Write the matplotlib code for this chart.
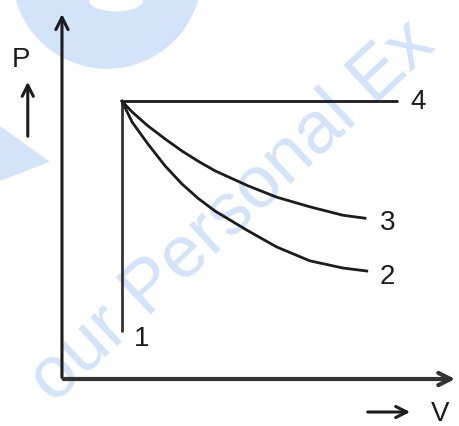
import matplotlib
matplotlib.use("Agg")
from matplotlib import pyplot as plt
from matplotlib.patches import Circle, Ellipse, Polygon

# start state (common to all four processes)
v0, p0 = 1.0, 4.63

# process 4 : isobaric, process 1 : isochoric
v4_end = 5.6
p1_end = 0.78

# process 3 (upper curve)
v3 = [1.0, 1.17, 1.43, 1.72, 2.0, 2.27, 2.55, 3.1, 3.58, 4.13, 4.68, 5.05]
p3 = [4.63, 4.45, 4.22, 4.0, 3.8, 3.63, 3.47, 3.22, 3.03, 2.87, 2.73, 2.68]

# process 2 (lower curve)
v2 = [1.0, 1.17, 1.43, 1.72, 2.0, 2.27, 2.55, 3.1, 3.58, 4.13, 4.68, 5.08]
p2 = [4.63, 4.28, 3.92, 3.55, 3.25, 3.01, 2.8, 2.47, 2.2, 1.97, 1.85, 1.80]

labels = ["1", "2", "3", "4"]

fig = plt.figure(figsize=(4.59, 4.27), dpi=100)
ax = fig.add_axes([0, 0, 1, 1])
ax.set_xlim(-1.033, 6.617)
ax.set_ylim(-0.783, 6.333)
ax.axis("off")

# pale watermark
wm = "#d3e3f9"
ax.add_patch(Circle((0.75, 6.75), 1.58, color=wm, lw=0, zorder=0))
ax.add_patch(Ellipse((0.9, 6.3), 0.9, 0.35, color="white", lw=0, zorder=0))
ax.add_patch(Polygon([(-1.04, 4.22), (-0.2, 3.62), (-1.04, 3.3)], color=wm, lw=0, zorder=0))
ax.text(2.83, 2.8, "our Personal Ex", rotation=43, fontsize=53, color=wm,
        family="Liberation Sans", ha="center", va="center", zorder=0)

# axes with open arrow heads
ink = "#1c1c1c"
ax.annotate("", xy=(0, 6.13), xytext=(0, -0.02),
            arrowprops=dict(arrowstyle="->", lw=2.2, color=ink, mutation_scale=22))
ax.annotate("", xy=(6.6, 0), xytext=(-0.02, 0),
            arrowprops=dict(arrowstyle="->", lw=3.0, color="#333333", mutation_scale=22))

# processes
ax.plot([v0, v4_end], [p0, p0], color=ink, lw=2.0, solid_capstyle="butt")
ax.plot([v0, v0], [p0, p1_end], color="#333333", lw=2.0, solid_capstyle="butt")
ax.plot(v3, p3, color=ink, lw=2.0)
ax.plot(v2, p2, color=ink, lw=2.0)

fs = 20
ax.text(v0 + 0.2, p1_end - 0.1, labels[0], fontsize=fs, family="Liberation Sans",
        ha="left", va="center", color=ink)
ax.text(v2[-1] + 0.22, p2[-1] - 0.08, labels[1], fontsize=fs, family="Liberation Sans",
        ha="left", va="center", color=ink)
ax.text(v3[-1] + 0.25, p3[-1] - 0.07, labels[2], fontsize=fs, family="Liberation Sans",
        ha="left", va="center", color=ink)
ax.text(v4_end + 0.2, p0, labels[3], fontsize=fs, family="Liberation Sans",
        ha="left", va="center", color=ink)

# axis names with small arrows
ax.text(-0.68, 5.33, "P", fontsize=fs, family="Liberation Sans", ha="center", va="center", color=ink)
ax.annotate("", xy=(-0.57, 5.0), xytext=(-0.57, 4.0),
            arrowprops=dict(arrowstyle="->", lw=2.2, color=ink, mutation_scale=20))
ax.annotate("", xy=(5.85, -0.55), xytext=(5.05, -0.55),
            arrowprops=dict(arrowstyle="->", lw=2.2, color=ink, mutation_scale=20))
ax.text(6.15, -0.56, "V", fontsize=fs, family="Liberation Sans", ha="left", va="center", color=ink)

fig.savefig("out.png", dpi=100)
